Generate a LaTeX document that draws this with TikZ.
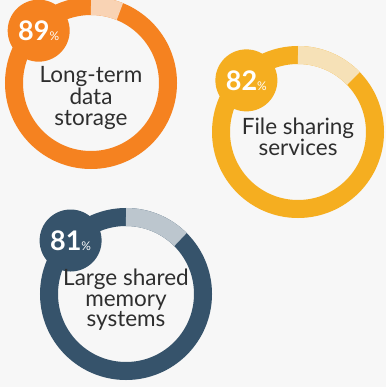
\documentclass[tikz,border=0pt]{standalone}
\usepackage{fontspec}
\setmainfont{Lato}
\definecolor{bgcol}{HTML}{F7F7F7}
\definecolor{txtcol}{HTML}{2E2E2E}
\definecolor{orangemain}{HTML}{F58220}
\definecolor{orangesoft}{HTML}{F9D3B4}
\definecolor{goldmain}{HTML}{F5AE20}
\definecolor{goldsoft}{HTML}{F6E1B7}
\definecolor{slatemain}{HTML}{36536B}
\definecolor{slatesoft}{HTML}{BCC6CE}
\tikzset{
  ring/.style={line width=18pt},
  badge/.style={circle, minimum size=62pt, inner sep=0pt},
  pct/.style={font=\bfseries\fontsize{27}{27}\selectfont, text=white, inner sep=0pt},
  ringtext/.style={align=center, font=\fontsize{22.5}{20.5}\selectfont, text=txtcol, inner sep=0pt}
}
\newcommand{\pcsign}{{\fontsize{12}{12}\selectfont\mdseries\%}}
\begin{document}
\begin{tikzpicture}[x=1pt,y=1pt]
  \fill[bgcol] (0,0) rectangle (386,-387);
  \useasboundingbox (0,0) rectangle (386,-387);
  \clip (0,0) rectangle (386,-387);

  % Long-term data storage: 89%
  \coordinate (c1) at (91,-83);
  \draw[ring, orangemain] (c1) circle[radius=77];
  \draw[ring, orangesoft] (c1) ++(90:77) arc[start angle=90, end angle=68, radius=77];
  \node[badge, fill=orangemain] (b1) at ([shift={(135:74)}]c1) {};
  \node[pct] (p1) at (b1) {89\pcsign};
  \node[ringtext] (t1) at (91,-98) {Long-term\\data\\storage};

  % File sharing services: 82%
  \coordinate (c2) at (298,-132);
  \draw[ring, goldmain] (c2) circle[radius=77];
  \draw[ring, goldsoft] (c2) ++(90:77) arc[start angle=90, end angle=44, radius=77];
  \node[badge, fill=goldmain] (b2) at ([shift={(135:73)}]c2) {};
  \node[pct] (p2) at (b2) {82\pcsign};
  \node[ringtext] (t2) at (298,-137) {File sharing\\services};

  % Large shared memory systems: 81%
  \coordinate (c3) at (126,-294);
  \draw[ring, slatemain] (c3) circle[radius=77];
  \draw[ring, slatesoft] (c3) ++(90:77) arc[start angle=90, end angle=45, radius=77];
  \node[badge, fill=slatemain] (b3) at ([shift={(136:77)}]c3) {};
  \node[pct] (p3) at (b3) {81\pcsign};
  \node[ringtext] (t3) at (126,-300) {Large shared\\memory\\systems};
\end{tikzpicture}
\end{document}
